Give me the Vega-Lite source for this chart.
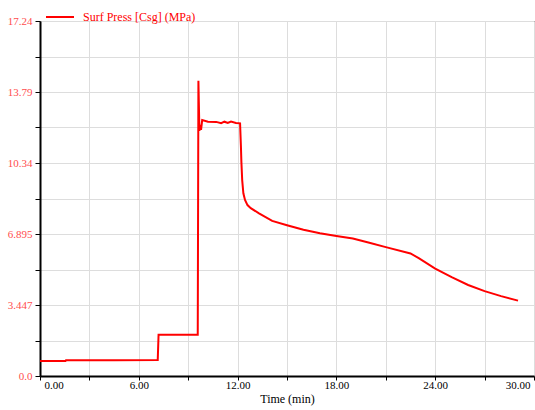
{
  "$schema": "https://vega.github.io/schema/vega-lite/v6.json",
  "autosize": "none",
  "width": 494,
  "height": 355,
  "padding": {"left": 40, "top": 21, "right": 1, "bottom": 34},
  "background": "white",
  "config": {
    "view": {"stroke": "black", "strokeWidth": 1},
    "font": "Liberation Serif"
  },
  "data": {
    "values": [
      {"t": 0, "p": 0.73, "s": "Surf Press [Csg] (MPa)"},
      {"t": 1.55, "p": 0.73, "s": "Surf Press [Csg] (MPa)"},
      {"t": 1.58, "p": 0.76, "s": "Surf Press [Csg] (MPa)"},
      {"t": 4.5, "p": 0.77, "s": "Surf Press [Csg] (MPa)"},
      {"t": 7.15, "p": 0.78, "s": "Surf Press [Csg] (MPa)"},
      {"t": 7.2, "p": 2.0, "s": "Surf Press [Csg] (MPa)"},
      {"t": 9.58, "p": 2.0, "s": "Surf Press [Csg] (MPa)"},
      {"t": 9.62, "p": 14.34, "s": "Surf Press [Csg] (MPa)"},
      {"t": 9.68, "p": 11.9, "s": "Surf Press [Csg] (MPa)"},
      {"t": 9.72, "p": 12.2, "s": "Surf Press [Csg] (MPa)"},
      {"t": 9.78, "p": 11.95, "s": "Surf Press [Csg] (MPa)"},
      {"t": 9.85, "p": 12.43, "s": "Surf Press [Csg] (MPa)"},
      {"t": 10.2, "p": 12.35, "s": "Surf Press [Csg] (MPa)"},
      {"t": 10.7, "p": 12.34, "s": "Surf Press [Csg] (MPa)"},
      {"t": 11.0, "p": 12.28, "s": "Surf Press [Csg] (MPa)"},
      {"t": 11.2, "p": 12.35, "s": "Surf Press [Csg] (MPa)"},
      {"t": 11.4, "p": 12.29, "s": "Surf Press [Csg] (MPa)"},
      {"t": 11.6, "p": 12.36, "s": "Surf Press [Csg] (MPa)"},
      {"t": 11.9, "p": 12.29, "s": "Surf Press [Csg] (MPa)"},
      {"t": 12.15, "p": 12.27, "s": "Surf Press [Csg] (MPa)"},
      {"t": 12.2, "p": 11.2, "s": "Surf Press [Csg] (MPa)"},
      {"t": 12.23, "p": 10.4, "s": "Surf Press [Csg] (MPa)"},
      {"t": 12.28, "p": 9.5, "s": "Surf Press [Csg] (MPa)"},
      {"t": 12.35, "p": 8.87, "s": "Surf Press [Csg] (MPa)"},
      {"t": 12.45, "p": 8.55, "s": "Surf Press [Csg] (MPa)"},
      {"t": 12.6, "p": 8.3, "s": "Surf Press [Csg] (MPa)"},
      {"t": 12.8, "p": 8.15, "s": "Surf Press [Csg] (MPa)"},
      {"t": 13.3, "p": 7.9, "s": "Surf Press [Csg] (MPa)"},
      {"t": 14.1, "p": 7.53, "s": "Surf Press [Csg] (MPa)"},
      {"t": 15.0, "p": 7.32, "s": "Surf Press [Csg] (MPa)"},
      {"t": 16.0, "p": 7.1, "s": "Surf Press [Csg] (MPa)"},
      {"t": 17.0, "p": 6.93, "s": "Surf Press [Csg] (MPa)"},
      {"t": 18.0, "p": 6.8, "s": "Surf Press [Csg] (MPa)"},
      {"t": 19.0, "p": 6.68, "s": "Surf Press [Csg] (MPa)"},
      {"t": 20.0, "p": 6.47, "s": "Surf Press [Csg] (MPa)"},
      {"t": 21.0, "p": 6.26, "s": "Surf Press [Csg] (MPa)"},
      {"t": 22.5, "p": 5.95, "s": "Surf Press [Csg] (MPa)"},
      {"t": 23.0, "p": 5.72, "s": "Surf Press [Csg] (MPa)"},
      {"t": 24.0, "p": 5.22, "s": "Surf Press [Csg] (MPa)"},
      {"t": 25.0, "p": 4.8, "s": "Surf Press [Csg] (MPa)"},
      {"t": 26.0, "p": 4.42, "s": "Surf Press [Csg] (MPa)"},
      {"t": 27.0, "p": 4.12, "s": "Surf Press [Csg] (MPa)"},
      {"t": 28.0, "p": 3.88, "s": "Surf Press [Csg] (MPa)"},
      {"t": 29.03, "p": 3.66, "s": "Surf Press [Csg] (MPa)"}
    ]
  },
  "mark": {"type": "line", "strokeWidth": 2, "interpolate": "linear"},
  "encoding": {
    "x": {
      "field": "t",
      "type": "quantitative",
      "scale": {"domain": [0, 30], "nice": false, "zero": false},
      "axis": {
        "title": "Time (min)",
        "titleFont": "Liberation Serif",
        "titleFontWeight": "normal",
        "titleFontSize": 12,
        "titleColor": "black",
        "titlePadding": 3,
        "values": [0, 3, 6, 9, 12, 15, 18, 21, 24, 27, 30],
        "labelExpr": "datum.value % 6 == 0 ? format(datum.value, '.2f') : ''",
        "labelFlush": true,
        "labelFlushOffset": -4,
        "labelFont": "Liberation Serif",
        "labelFontSize": 11,
        "labelColor": "black",
        "labelPadding": -1,
        "domainColor": "black",
        "domainWidth": 2,
        "tickColor": "black",
        "tickSize": 4,
        "gridColor": "#dddddd",
        "gridWidth": 1
      }
    },
    "y": {
      "field": "p",
      "type": "quantitative",
      "scale": {"domain": [0, 17.24], "nice": false, "zero": false},
      "axis": {
        "title": null,
        "values": [0, 1.7238, 3.447, 5.171, 6.895, 8.619, 10.34, 12.07, 13.79, 15.51, 17.24],
        "labelExpr": "datum.value == 0 ? '0.0' : (indexof([3.447, 6.895, 10.34, 13.79, 17.24], datum.value) >= 0 ? toString(datum.value) : '')",
        "labelFont": "Liberation Serif",
        "labelFontSize": 11,
        "labelColor": "#ff4d4d",
        "labelPadding": 3,
        "domainColor": "black",
        "domainWidth": 2,
        "tickColor": "black",
        "tickSize": 5,
        "gridColor": "#dddddd",
        "gridWidth": 1
      }
    },
    "color": {
      "field": "s",
      "type": "nominal",
      "scale": {"range": ["#ff0000"]},
      "legend": {
        "title": null,
        "orient": "none",
        "legendX": 5,
        "legendY": -19,
        "padding": 0,
        "symbolType": "stroke",
        "symbolSize": 784,
        "symbolStrokeWidth": 2,
        "labelFont": "Liberation Serif",
        "labelFontSize": 12,
        "labelColor": "#ff0000",
        "labelOffset": 8
      }
    }
  }
}
